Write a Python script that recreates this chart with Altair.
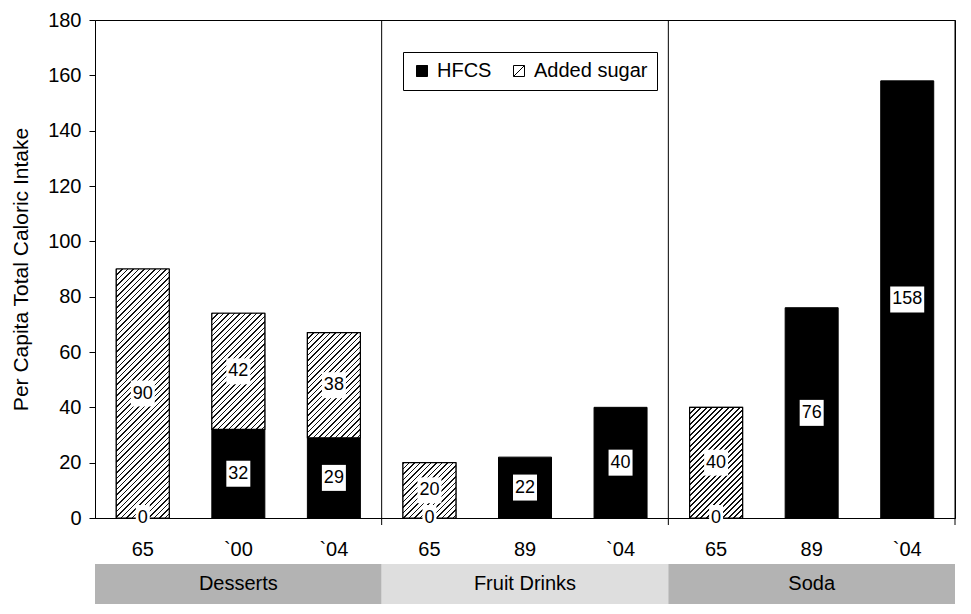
import altair as alt
import pandas as pd

# ---- data ----
groups = ["Desserts", "Fruit Drinks", "Soda"]
group_of_bar = ["Desserts", "Desserts", "Desserts",
                "Fruit Drinks", "Fruit Drinks", "Fruit Drinks",
                "Soda", "Soda", "Soda"]
years = ["65", "`00", "`04", "65", "89", "`04", "65", "89", "`04"]
hfcs = [0, 32, 29, 0, 22, 40, 0, 76, 158]
added_sugar = [90, 42, 38, 20, 0, 0, 40, 0, 0]
series_names = ["HFCS", "Added sugar"]

# ---- layout constants ----
W, H = 860, 498
YMAX = 180
BAR_W = 53
FONT = "Liberation Sans"
HATCH_PERIOD = 5.5
HATCH_LINE = 1.7

keys = [f"{g}|{y}" for g, y in zip(group_of_bar, years)]

rows = []
for k, h, a in zip(keys, hfcs, added_sugar):
    rows.append({"key": k, "series": "HFCS", "value": h, "lo": 0, "hi": h})
    rows.append({"key": k, "series": "Added sugar", "value": a, "lo": h, "hi": h + a})
df = pd.DataFrame(rows)
gdf = pd.DataFrame({"group": groups})

kscale = alt.Scale(domain=keys, paddingInner=0.445, paddingOuter=0.2225)
xkey_plain = alt.X("key:N", sort=keys, scale=kscale)
ysc = alt.Scale(domain=[0, YMAX], nice=False)
y_plain = alt.Y("lo:Q", scale=ysc)
ymid = alt.Y("mid:Q", scale=ysc)

# base bars (carry the axes and the legend)
bars = alt.Chart(df).transform_filter(alt.datum.value > 0).mark_bar(
    size=BAR_W, stroke="black", strokeWidth=1
).encode(
    x=alt.X("key:N", sort=keys, scale=kscale,
            axis=alt.Axis(title=None, labelExpr="split(datum.value, '|')[1]",
                          labelAngle=0, ticks=False, tickSize=0,
                          labelFontSize=20, labelColor="black", labelFont=FONT,
                          labelBaseline="middle", labelPadding=31,
                          domainColor="black", domainWidth=1, grid=False)),
    y=alt.Y("lo:Q", scale=ysc,
            axis=alt.Axis(title="Per Capita Total Caloric Intake",
                          values=list(range(0, YMAX + 1, 20)),
                          tickSize=6, tickColor="black", domainColor="black",
                          labelFontSize=20, labelColor="black", labelFont=FONT,
                          labelPadding=8, grid=False,
                          titleFontSize=21, titleFontWeight="normal", titleColor="black",
                          titleFont=FONT, titleAngle=270, titleX=-68, titleY=H / 2,
                          titleBaseline="alphabetic", titleAlign="center")),
    y2="hi:Q",
    color=alt.Color("series:N",
                    scale=alt.Scale(domain=series_names, range=["black", "white"]),
                    legend=alt.Legend(title=None, orient="none", legendX=308, legendY=32,
                                      direction="horizontal", fillColor="white",
                                      strokeColor="black", padding=9,
                                      symbolType="M-1,-1H1V1H-1Z M-1,1L1,-1",
                                      symbolSize=121, symbolStrokeColor="black",
                                      symbolStrokeWidth=1, labelFontSize=20,
                                      labelFont=FONT, labelColor="black",
                                      labelOffset=5, columnPadding=17)),
)


def hatch_fill(h_px, w_px=BAR_W):
    total = w_px + h_px
    D = w_px ** 2 + h_px ** 2
    stops = []
    s = 0.0
    while s < total:
        t0 = s / total
        t1 = min((s + HATCH_LINE) / total, 1.0)
        stops += [alt.GradientStop(offset=t0, color="white"),
                  alt.GradientStop(offset=t0, color="#111111"),
                  alt.GradientStop(offset=t1, color="#111111"),
                  alt.GradientStop(offset=t1, color="white")]
        s += HATCH_PERIOD
    stops.append(alt.GradientStop(offset=1.0, color="white"))
    return alt.LinearGradient(gradient="linear", stops=stops, x1=0, y1=0,
                              x2=total * w_px / D, y2=total * h_px / D)


hatch_layers = []
for k, a in zip(keys, added_sugar):
    if a <= 0:
        continue
    h_px = a * H / YMAX
    hatch_layers.append(
        alt.Chart(df).transform_filter(
            (alt.datum.key == k) & (alt.datum.series == "Added sugar")
        ).mark_bar(size=BAR_W, fill=hatch_fill(h_px), stroke="black", strokeWidth=1.2)
        .encode(x=xkey_plain, y=y_plain, y2="hi:Q")
    )

labels_base = alt.Chart(df).transform_filter(
    (alt.datum.value > 0) | (alt.datum.series == "HFCS")
).transform_calculate(
    mid="(datum.lo + datum.hi) / 2",
    txt="toString(datum.value)",
    bw="10 * length(toString(datum.value)) + 4",
).transform_calculate(
    boxpath="'M-1,-' + (26 / datum.bw) + 'H1V' + (26 / datum.bw) + 'H-1Z'",
    boxsize="datum.bw * datum.bw",
)

boxes = labels_base.mark_point(filled=True, fill="white", opacity=1, strokeWidth=0).encode(
    x=xkey_plain,
    y=ymid,
    shape=alt.Shape("boxpath:N", scale=None, legend=None),
    size=alt.Size("boxsize:Q", scale=None, legend=None),
)

texts = labels_base.mark_text(fontSize=18, font=FONT, color="black", baseline="middle").encode(
    x=xkey_plain,
    y=ymid,
    text="txt:N",
)

gscale = alt.Scale(domain=groups, paddingInner=0, paddingOuter=0)

sep_left = alt.Chart(gdf).transform_filter(alt.datum.group != groups[0]).mark_rule(
    color="black", strokeWidth=1
).encode(
    x=alt.X("group:N", sort=groups, scale=gscale, axis=None, bandPosition=0),
    y=alt.value(0), y2=alt.value(H + 7),
)
sep_right = alt.Chart(gdf).transform_filter(alt.datum.group == groups[-1]).mark_rule(
    color="black", strokeWidth=1
).encode(
    x=alt.X("group:N", sort=groups, scale=gscale, axis=None, bandPosition=1),
    y=alt.value(0), y2=alt.value(H + 7),
)

strip = alt.Chart(gdf).mark_rect().encode(
    x=alt.X("group:N", sort=groups, scale=gscale, axis=None),
    y=alt.value(H + 46), y2=alt.value(H + 86),
    color=alt.Color("group:N", sort=groups,
                    scale=alt.Scale(domain=groups, range=["#b3b3b3", "#dedede", "#b3b3b3"]),
                    legend=None),
)
strip_text = alt.Chart(gdf).mark_text(fontSize=20, font=FONT, color="black", baseline="middle").encode(
    x=alt.X("group:N", sort=groups, scale=gscale, axis=None),
    y=alt.value(H + 66),
    text="group:N",
)

main = alt.layer(bars, *hatch_layers, boxes, texts)
grp = alt.layer(sep_left, sep_right, strip, strip_text)

chart = alt.layer(main, grp).resolve_scale(x="independent", color="independent").properties(
    width=W, height=H,
    autosize=alt.AutoSizeParams(type="none"),
    padding={"left": 87, "top": 12, "right": 4, "bottom": 88},
).configure(font=FONT).configure_view(stroke="black", strokeWidth=1)

chart.save("out.html", embed_options={"renderer": "svg", "actions": False})
